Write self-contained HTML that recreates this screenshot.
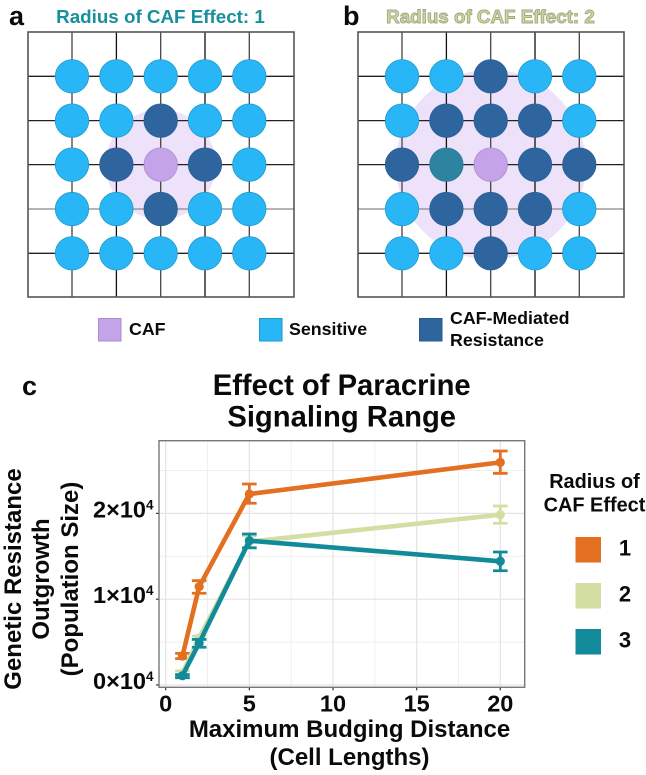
<!DOCTYPE html>
<html lang="en">
<head>
<meta charset="utf-8">
<title>Effect of Paracrine Signaling Range</title>
<style>
html,body{margin:0;padding:0;background:#fff;}
svg{display:block;}
text{font-family:"Liberation Sans",sans-serif;font-weight:bold;fill:#0a0a0a;}
</style>
</head>
<body>
<svg id="fig" xmlns="http://www.w3.org/2000/svg" width="646" height="775" viewBox="0 0 646 775">
  <text x="9" y="25" font-size="27">a</text>
  <text x="343" y="25" font-size="27">b</text>
  <text x="22" y="395" font-size="27">c</text>
  <text x="160.5" y="23" font-size="18.8" text-anchor="middle" style="fill:#178f9c">Radius of CAF Effect: 1</text>
  <text x="490.5" y="23" font-size="18.8" text-anchor="middle" style="fill:#ccd8a4;stroke:#9da97c;stroke-width:0.9">Radius of CAF Effect: 2</text>
  <g id="panelA"></g>
  <g id="panelB"></g>

  <g>
    <rect x="98.5" y="318.5" width="22.5" height="22.5" fill="#c5a3e8" stroke="#a98cc9"/>
    <text x="129" y="335" font-size="17.8">CAF</text>
    <rect x="259.5" y="318.5" width="22.5" height="22.5" fill="#29b6f6" stroke="#1e9ac9"/>
    <text x="289" y="335" font-size="17.8">Sensitive</text>
    <rect x="419.5" y="318.5" width="22.5" height="22.5" fill="#2f659f" stroke="#2a5a8f"/>
    <text font-size="17.8"><tspan x="450" y="324">CAF-Mediated</tspan><tspan x="450" y="346">Resistance</tspan></text>
  </g>

  <text font-size="29.2" text-anchor="middle"><tspan x="341.7" y="395">Effect of Paracrine</tspan><tspan x="341.7" y="426.7">Signaling Range</tspan></text>

  <g id="chart"></g>

  <text font-size="24" text-anchor="middle"><tspan x="349.5" y="737">Maximum Budging Distance</tspan><tspan x="349.5" y="765">(Cell Lengths)</tspan></text>
  <text font-size="24" text-anchor="middle" transform="translate(21,579) rotate(-90)">Genetic Resistance</text>
  <text font-size="24" text-anchor="middle" transform="translate(49,579) rotate(-90)">Outgrowth</text>
  <text font-size="24" text-anchor="middle" transform="translate(78,579) rotate(-90)">(Population Size)</text>

  <g>
    <text font-size="19.9" text-anchor="middle"><tspan x="594.5" y="488">Radius of</tspan><tspan x="594.5" y="511.5">CAF Effect</tspan></text>
    <rect x="575.5" y="537" width="25.5" height="25.5" fill="#e36f21"/>
    <text x="625" y="555.5" font-size="22" text-anchor="middle">1</text>
    <rect x="575.5" y="583" width="25.5" height="25.5" fill="#d3dea3"/>
    <text x="625" y="601.5" font-size="22" text-anchor="middle">2</text>
    <rect x="575.5" y="629" width="25.5" height="25.5" fill="#118a9a"/>
    <text x="625" y="647.5" font-size="22" text-anchor="middle">3</text>
  </g>
</svg>
<script>
// Chart data
var budgingDistance = [1, 2, 5, 20];
var radius1Mean = [3380, 11460, 22260, 25950];
var radius1Low = [3070, 10690, 21180, 24670];
var radius1High = [3690, 12160, 23430, 27270];
var radius2Mean = [1400, 5500, 16700, 19850];
var radius2Low = [1200, 5300, 15970, 18850];
var radius2High = [1650, 5710, 17400, 20860];
var radius3Mean = [1080, 4890, 16820, 14420];
var radius3Low = [850, 4400, 16000, 13320];
var radius3High = [1200, 5320, 17600, 15500];
var xTickValues = [0, 5, 10, 15, 20];
var xMinorValues = [2.5, 7.5, 12.5, 17.5];
var yTickValues = [0, 10000, 20000];
var yTickMantissas = ['0', '1', '2'];
var yMinorValues = [5000, 15000, 25000];
// Cell states: S sensitive, R resistant, C CAF, T teal
var panelARows = ['SSSSS', 'SSRSS', 'SRCRS', 'SSRSS', 'SSSSS'];
var panelBRows = ['SSRSS', 'SRRRS', 'RTCRR', 'SRRRS', 'SSRSS'];

var NS = 'http://www.w3.org/2000/svg';
function make(tag, attrs, parent) {
  var el = document.createElementNS(NS, tag);
  for (var k in attrs) el.setAttribute(k, attrs[k]);
  parent.appendChild(el);
  return el;
}

var cellFill = { S: '#29b6f6', R: '#2f659f', C: '#c5a3e8', T: '#2d84a0' };
var cellStroke = { S: '#1e9ac9', R: '#2a5f96', C: '#a98cc9', T: '#2a7a94' };

function drawPanel(group, rows, ox, haloR, prefix) {
  var cols = [44, 88.4, 132.7, 177, 221.3];
  var lineRows = [44.3, 88.6, 132.6, 177, 221.3];
  var halo = make('circle', { cx: ox + 132.7, cy: 164.5, r: haloR, fill: '#ede2fa' }, group);
  
  
  cols.forEach(function (c, i) {
    var v = make('line', { x1: ox + c, x2: ox + c, y1: 32, y2: 297, stroke: i % 2 ? '#111' : '#444', 'stroke-width': 1.3 }, group);
    
    
  });
  lineRows.forEach(function (r, i) {
    var h = make('line', { x1: ox, x2: ox + 266, y1: 32 + r, y2: 32 + r, stroke: i === 3 ? '#888' : '#222', 'stroke-width': 1.3 }, group);
    
    
  });
  var frame = make('rect', { x: ox, y: 32, width: 266, height: 265, fill: 'none', stroke: '#555', 'stroke-width': 1.6 }, group);
  
  
  rows.forEach(function (row, r) {
    row.split('').forEach(function (state, c) {
      var cell = make('circle', {
        cx: ox + cols[c], cy: 32 + lineRows[r], r: 16.7,
        fill: cellFill[state], stroke: cellStroke[state], 'stroke-width': 0.8
      }, group);
      
      
    });
  });
}
drawPanel(document.getElementById('panelA'), panelARows, 28, 55, 'panel-a');
drawPanel(document.getElementById('panelB'), panelBRows, 358, 95, 'panel-b');

// Axis functions
function xScale(v) { return 165.7 + v * 16.73; }
function yScale(v) { return 685 - v * 0.00858; }

var chart = document.getElementById('chart');
var left = 159, right = 524.7, top_ = 440.7, bottom = 687.3;

yMinorValues.forEach(function (v) {
  var l = make('line', { x1: left, x2: right, y1: yScale(v), y2: yScale(v), stroke: '#efefef', 'stroke-width': 1 }, chart);
  
  
});
xMinorValues.forEach(function (v) {
  var l = make('line', { x1: xScale(v), x2: xScale(v), y1: top_, y2: bottom, stroke: '#efefef', 'stroke-width': 1 }, chart);
  
  
});
yTickValues.forEach(function (v, i) {
  var l = make('line', { x1: left, x2: right, y1: yScale(v), y2: yScale(v), stroke: '#e4e4e4', 'stroke-width': 1.2 }, chart);
  
  
  var t = make('line', { x1: left - 3, x2: left, y1: yScale(v), y2: yScale(v), stroke: '#333', 'stroke-width': 1.2 }, chart);
  
  
  var lab = make('text', { x: 153.5, y: yScale(v) + 4, 'font-size': 23.5, 'text-anchor': 'end' }, chart);
  
  
  lab.appendChild(document.createTextNode(yTickMantissas[i] + '\u00d710'));
  var sup = make('tspan', { dy: -8, 'font-size': 13.5 }, lab);
  sup.textContent = '4';
});
xTickValues.forEach(function (v) {
  var l = make('line', { x1: xScale(v), x2: xScale(v), y1: top_, y2: bottom, stroke: '#e4e4e4', 'stroke-width': 1.2 }, chart);
  
  
  var t = make('line', { x1: xScale(v), x2: xScale(v), y1: bottom, y2: bottom + 3, stroke: '#333', 'stroke-width': 1.2 }, chart);
  
  
  var lab = make('text', { x: xScale(v), y: 711.7, 'font-size': 23.5, 'text-anchor': 'middle' }, chart);
  
  
  lab.textContent = String(v);
});
var border = make('rect', { x: left, y: top_, width: right - left, height: bottom - top_, fill: 'none', stroke: '#777', 'stroke-width': 1.4 }, chart);



function drawSeries(name, color, mean, low, high) {
  var pts = budgingDistance.map(function (d, i) { return xScale(d) + ',' + yScale(mean[i]); }).join(' ');
  var line = make('polyline', { points: pts, fill: 'none', stroke: color, 'stroke-width': 4.6, 'stroke-linejoin': 'round' }, chart);
  
  
  budgingDistance.forEach(function (d, i) {
    var x = xScale(d), yl = yScale(low[i]), yh = yScale(high[i]);
    var path = 'M' + (x - 7.3) + ' ' + yh + 'H' + (x + 7.3) + 'M' + x + ' ' + yh + 'V' + yl + 'M' + (x - 7.3) + ' ' + yl + 'H' + (x + 7.3);
    var err = make('path', { d: path, fill: 'none', stroke: color, 'stroke-width': 2.8 }, chart);
    
    
    var pt = make('circle', { cx: x, cy: yScale(mean[i]), r: 4.6, fill: color }, chart);
    
    
  });
}
drawSeries('radius-1', '#e36f21', radius1Mean, radius1Low, radius1High);
drawSeries('radius-2', '#d3dea3', radius2Mean, radius2Low, radius2High);
drawSeries('radius-3', '#118a9a', radius3Mean, radius3Low, radius3High);
</script>
</body>
</html>
